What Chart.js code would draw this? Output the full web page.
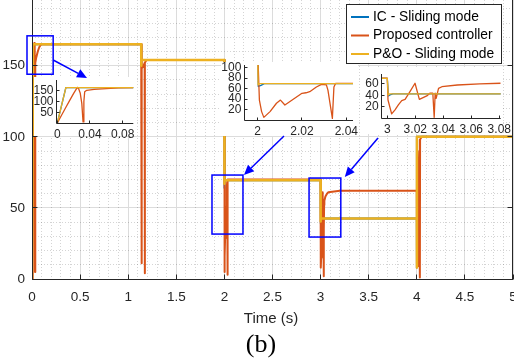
<!DOCTYPE html>
<html>
<head>
<meta charset="utf-8">
<script src="https://cdn.jsdelivr.net/npm/chart.js@4"></script>
<style>
  html, body { margin: 0; padding: 0; background: #fff; }
  #wrap { position: relative; width: 514px; height: 360px; overflow: hidden; }
  #wrap canvas { position: absolute; left: 0; top: 0; }
</style>
</head>
<body>
<div id="wrap">
  <canvas id="main" width="514" height="360"></canvas>
  <canvas id="in1" width="514" height="360"></canvas>
  <canvas id="in2" width="514" height="360"></canvas>
  <canvas id="in3" width="514" height="360"></canvas>
</div>
<script>
// series (time in s, value)
const icTime  = [0, 0.0105, 1.135, 1.1353, 1.137, 2.0, 2.0003, 2.0015, 2.003, 3.0, 3.0008, 3.002, 3.004, 4.0, 4.0005, 4.002, 5.0]
const icValue = [0, 165, 165, 150, 154, 154, 64, 66, 69.5, 69.5, 39, 41, 42.5, 42.5, 8, 100, 100]

const poTime  = [0, 0.0105, 1.135, 1.1353, 1.137, 2.0, 2.0002, 2.0008, 3.0, 3.0006, 3.0015, 4.0, 4.0005, 4.002, 5.0]
const poValue = [0, 165, 165, 150, 154, 154, 67, 69.5, 69.5, 40.5, 42.5, 42.5, 8, 100, 100]

const propTime = [
  0, 0.005, 0.01, 0.015, 0.02, 0.0245, 0.026, 0.028, 0.03, 0.0315, 0.0325, 0.0335, 0.036, 0.045, 0.06, 0.075, 0.093, 0.15,
  1.135, 1.138, 1.142, 1.16, 1.171, 1.1725, 1.174, 1.19,
  2.0, 2.0003, 2.0008, 2.0018, 2.0028, 2.0056, 2.0085, 2.0103, 2.0123, 2.02, 2.0218, 2.0235, 2.0265, 2.0288, 2.031, 2.0317, 2.0337, 2.0344, 2.0352,
  3.0, 3.0005, 3.0031, 3.0055, 3.0079, 3.0103, 3.0127, 3.0163, 3.0198, 3.0229, 3.0282, 3.0306, 3.0325, 3.0335, 3.0342, 3.0349, 3.0366, 3.039, 3.05, 3.066, 3.081, 3.2,
  4.0, 4.001, 4.004, 4.012, 4.025, 4.031, 4.0325, 4.034, 4.05, 5.0
]
const propValue = [
  0, 35, 70, 104, 138, 166, 160, 140, 90, 5, 100, 145, 152, 156, 160, 163, 165, 165,
  165, 11, 148, 150, 152, 4, 152, 154,
  154, 100, 38, 16, 5, 16, 32, 38, 28.6, 51, 52, 54, 63, 68, 67, 57, 3, 63, 70,
  70, 32, 8, 15, 23.5, 31, 33, 47, 61, 33, 39, 44, 44, 2, 44, 35, 52, 55, 58, 60, 61, 62,
  62, 50, 9, 60, 90, 98, 1, 98, 100, 100
]

const seriesNames = ['IC - Sliding mode', 'Proposed controller', 'P&O - Sliding mode']
const seriesColors = ['#0072BD', '#D95319', '#EDB120']

// tick labels
const mainXTicks = [0, 0.5, 1, 1.5, 2, 2.5, 3, 3.5, 4, 4.5, 5]
const mainYTicks = [0, 50, 100, 150]
const in1XTicks = [0, 0.04, 0.08]
const in1YTicks = [50, 100, 150]
const in2XTicks = [2, 2.02, 2.04]
const in2YTicks = [20, 40, 60, 80, 100]
const in3XTicks = [3, 3.02, 3.04, 3.06, 3.08]
const in3YTicks = [20, 40, 60]

// zoom windows marked on the main plot [t0, t1, v0, v1]
const zoomBoxes = [[-0.052, 0.22, 144, 171], [1.871, 2.193, 31.6, 73.1], [2.88, 3.21, 29.5, 71]]

const W = 514, H = 360
const FONT = '"Liberation Sans", Arial, sans-serif'
const INK = '#262626'

const pts = (ts, vs) => ts.map((t, i) => ({ x: t, y: vs[i] }))

function makeSets(w, wy) {
  const base = { showLine: true, pointRadius: 0, pointHoverRadius: 0, fill: false, borderJoinStyle: 'round' }
  return [
    Object.assign({ label: seriesNames[0], data: pts(icTime, icValue), borderColor: seriesColors[0], borderWidth: w, order: 2 }, base),
    Object.assign({ label: seriesNames[1], data: pts(propTime, propValue), borderColor: seriesColors[1], borderWidth: w, order: 1 }, base),
    Object.assign({ label: seriesNames[2], data: pts(poTime, poValue), borderColor: seriesColors[2], borderWidth: wy, order: 0 }, base),
  ]
}

function line(ctx, x0, y0, x1, y1) {
  ctx.moveTo(x0, y0)
  ctx.lineTo(x1, y1)
}

// white paper, minor grid, axis box and inward ticks
const frame = {
  id: 'frame',
  beforeDraw(chart, args, o) {
    if (!o.paper) return
    const p = o.paper, ctx = chart.ctx
    ctx.save()
    ctx.fillStyle = '#fff'
    ctx.fillRect(p[0], p[1], p[2] - p[0], p[3] - p[1])
    ctx.restore()
  },
  beforeDatasetsDraw(chart, args, o) {
    if (!o.minor) return
    const { ctx, chartArea: a, scales: { x, y } } = chart
    ctx.save()
    ctx.strokeStyle = 'rgba(0,0,0,0.17)'
    ctx.lineWidth = 1
    ctx.setLineDash([1, 2])
    ctx.beginPath()
    for (let i = 1; i < 50; i++) {
      if (i % 5 === 0) continue
      const px = Math.floor(x.getPixelForValue(i / 10)) + 0.5
      line(ctx, px, a.top, px, a.bottom)
    }
    for (let v = 10; v < y.max; v += 10) {
      if (v % 50 === 0) continue
      const py = Math.floor(y.getPixelForValue(v)) + 0.5
      line(ctx, a.left, py, a.right, py)
    }
    ctx.stroke()
    ctx.restore()
  },
  afterDatasetsDraw(chart, args, o) {
    const { ctx, chartArea: a, scales: { x, y } } = chart
    const L = o.tickLen || 4
    const l = Math.floor(a.left) + 0.5, b = Math.floor(a.bottom) + 0.5, r = Math.floor(a.right) - 0.5
    ctx.save()
    ctx.strokeStyle = INK
    ctx.lineWidth = 1
    ctx.beginPath()
    line(ctx, l, a.top, l, b)
    line(ctx, l, b, a.right, b)
    if (o.right) line(ctx, r, a.top, r, b)
    x.ticks.forEach(t => {
      const px = Math.floor(x.getPixelForValue(t.value)) + 0.5
      line(ctx, px, b, px, b - L)
    })
    y.ticks.forEach(t => {
      const py = Math.floor(y.getPixelForValue(t.value)) + 0.5
      line(ctx, l, py, l + L, py)
      if (o.right) line(ctx, r, py, r - L, py)
    })
    ctx.stroke()
    ctx.restore()
  },
  afterDraw(chart, args, o) {
    if (!o.titles) return
    const ctx = chart.ctx
    ctx.save()
    ctx.textAlign = 'center'
    ctx.textBaseline = 'middle'
    ctx.fillStyle = INK
    ctx.font = '15px ' + FONT
    ctx.fillText('Time (s)', 271, 319)
    ctx.fillStyle = '#000'
    ctx.font = '26px "Liberation Serif", "Times New Roman", serif'
    ctx.fillText('(b)', 261, 345)
    ctx.restore()
  }
}

// fixed axis box size, no label overflow padding
function fitTo(prop, size) {
  return s => {
    s[prop] = size
    s.paddingLeft = s.paddingRight = s.paddingTop = s.paddingBottom = 0
  }
}

function axis(range, ticks, size, fit, pad, grid) {
  return {
    type: 'linear', min: range[0], max: range[1],
    afterFit: fit,
    afterBuildTicks: s => { s.ticks = ticks.map(v => ({ value: v })) },
    grid: grid ? { color: '#dcdcdc', drawTicks: false } : { display: false, drawTicks: false },
    border: { display: false },
    ticks: {
      padding: pad, color: INK, font: { family: FONT, size: size },
      autoSkip: false, maxRotation: 0, minRotation: 0,
      callback: v => String(v)
    }
  }
}

const mainChart = new Chart(document.getElementById('main'), {
  type: 'scatter',
  data: { datasets: makeSets(2, 2.5) },
  options: {
    responsive: false, animation: false, events: [],
    layout: { autoPadding: false, padding: { left: 0, top: 0, right: 1, bottom: 0 } },
    plugins: { legend: { display: false }, tooltip: { enabled: false }, frame: { right: true, minor: true, tickLen: 5, titles: true } },
    scales: {
      x: axis([0, 5], mainXTicks, 13.5, fitTo('height', 81), 10, true),
      y: axis([0, 196.2], mainYTicks, 13.5, fitTo('width', 32), 7, true)
    }
  },
  plugins: [frame]
})

function inset(id, area, xr, yr, xt, yt, paper, extra) {
  return new Chart(document.getElementById(id), {
    type: 'scatter',
    data: { datasets: makeSets(1.3, 1.3) },
    options: {
      responsive: false, animation: false, events: [],
      layout: { autoPadding: false, padding: { left: area[0] - 30, top: area[1], right: W - area[2], bottom: H - area[3] - 20 } },
      plugins: { legend: { display: false }, tooltip: { enabled: false }, frame: { paper: paper, tickLen: 3 } },
      scales: {
        x: axis(xr, xt, 12, fitTo('height', 20), 4, false),
        y: axis(yr, yt, 12, fitTo('width', 30), 3, false)
      }
    },
    plugins: extra ? [frame, extra] : [frame]
  })
}

function arrow(ctx, x0, y0, x1, y1) {
  const ang = Math.atan2(y1 - y0, x1 - x0), hl = 10, hw = 4.5
  const bx = x1 - hl * Math.cos(ang), by = y1 - hl * Math.sin(ang)
  ctx.beginPath()
  ctx.moveTo(x0, y0)
  ctx.lineTo(bx, by)
  ctx.stroke()
  ctx.beginPath()
  ctx.moveTo(x1, y1)
  ctx.lineTo(bx + hw * Math.sin(ang), by - hw * Math.cos(ang))
  ctx.lineTo(bx - hw * Math.sin(ang), by + hw * Math.cos(ang))
  ctx.closePath()
  ctx.fill()
}

// zoom boxes, arrows and legend, drawn on the top layer
const notes = {
  id: 'notes',
  afterDraw(chart) {
    const ctx = chart.ctx, x = mainChart.scales.x, y = mainChart.scales.y
    ctx.save()
    ctx.strokeStyle = '#0000ff'
    ctx.fillStyle = '#0000ff'
    ctx.lineWidth = 1.5
    const px = zoomBoxes.map(b => [x.getPixelForValue(b[0]), x.getPixelForValue(b[1]), y.getPixelForValue(b[3]), y.getPixelForValue(b[2])])
    px.forEach(p => ctx.strokeRect(p[0], p[2], p[1] - p[0], p[3] - p[2]))
    arrow(ctx, px[0][1], 60, 87, 78)
    arrow(ctx, 284, 136, px[1][1] + 1, px[1][2])
    arrow(ctx, 378, 138, px[2][1] + 4, px[2][2] - 1)

    // legend
    const lx = 346, ly = 4, lw = 155, lh = 59
    ctx.fillStyle = '#fff'
    ctx.fillRect(lx, ly, lw, lh)
    ctx.strokeStyle = INK
    ctx.lineWidth = 1
    ctx.strokeRect(lx + 0.5, ly + 0.5, lw, lh)
    ctx.font = '13.8px ' + FONT
    ctx.textBaseline = 'middle'
    ctx.textAlign = 'left'
    mainChart.data.datasets.forEach((d, i) => {
      const ry = 17 + i * 18.5
      ctx.strokeStyle = d.borderColor
      ctx.lineWidth = 2
      ctx.beginPath()
      line(ctx, 351, ry, 369, ry)
      ctx.stroke()
      ctx.fillStyle = '#000'
      ctx.fillText(d.label, 373, ry)
    })
    ctx.restore()
  }
}

inset('in1', [56.5, 80, 133.3, 123], [-0.001, 0.093], [0, 200], in1XTicks, in1YTicks, [34, 77, 137, 136])
inset('in2', [244.3, 65, 353, 120], [1.994, 2.043], [0, 105], in2XTicks, in2YTicks, [221, 62, 358, 136])
inset('in3', [381.7, 74, 500.7, 118.5], [2.996, 3.081], [0, 77], in3XTicks, in3YTicks, [360, 67, 503, 134], notes)
</script>
</body>
</html>
